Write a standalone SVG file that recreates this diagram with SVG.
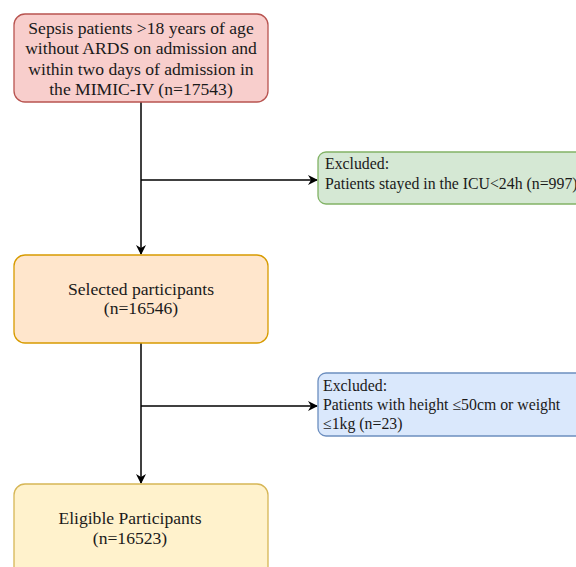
<svg xmlns="http://www.w3.org/2000/svg" width="576" height="567" viewBox="0 0 576 567">
<defs>
<marker id="arr" viewBox="0 0 10 10" refX="9" refY="5" markerWidth="10" markerHeight="10" markerUnits="userSpaceOnUse" orient="auto">
<path d="M0,0 L10,5 L0,10 L3,5 Z" fill="#000"/>
</marker>
<style>
text{fill:#1a1a1a}
.big{font-size:17.6px}
.sm{font-size:15.8px}
.c{text-anchor:middle}
.ln{stroke:#000;stroke-width:1.5;fill:none}
</style>
</defs>
<rect width="576" height="567" fill="#fff"/>
<g id="connectors">
<path class="ln" d="M141,102 V254" marker-end="url(#arr)"/>
<path class="ln" d="M141,180 H317" marker-end="url(#arr)"/>
<path class="ln" d="M141,343 V483" marker-end="url(#arr)"/>
<path class="ln" d="M141,406 H317" marker-end="url(#arr)"/>
</g>
<g font-family="'Liberation Serif', 'Times New Roman', serif">
<g id="n1">
<rect x="14" y="14" width="254" height="88" rx="11" fill="#f8cecc" stroke="#b85450" stroke-width="1.3"/>
<text class="big c" x="141" y="34">Sepsis patients &gt;18 years of age</text>
<text class="big c" x="141" y="54">without ARDS on admission and</text>
<text class="big c" x="141" y="75">within two days of admission in</text>
<text class="big c" x="141" y="95">the MIMIC-IV (n=17543)</text>
</g>
<g id="n2">
<rect x="318" y="152" width="270" height="52" rx="8" fill="#d5e8d4" stroke="#82b366" stroke-width="1.3"/>
<text class="sm" x="325" y="169">Excluded:</text>
<text class="sm" x="325" y="189">Patients stayed in the ICU&lt;24h (n=997)</text>
</g>
<g id="n3">
<rect x="14" y="255" width="254" height="88" rx="11" fill="#ffe6cc" stroke="#d79b00" stroke-width="1.3"/>
<text class="big c" x="141" y="295">Selected participants</text>
<text class="big c" x="141" y="314">(n=16546)</text>
</g>
<g id="n4">
<rect x="318" y="373" width="270" height="63" rx="8" fill="#dae8fc" stroke="#6c8ebf" stroke-width="1.3"/>
<text class="sm" x="323" y="391">Excluded:</text>
<text class="sm" x="323" y="410">Patients with height ≤50cm or weight</text>
<text class="sm" x="323" y="429">≤1kg (n=23)</text>
</g>
<g id="n5">
<rect x="14" y="484" width="254" height="100" rx="11" fill="#fff2cc" stroke="#d6b656" stroke-width="1.3"/>
<text class="big c" x="130" y="524">Eligible Participants</text>
<text class="big c" x="130" y="544">(n=16523)</text>
</g>
</g>
</svg>
